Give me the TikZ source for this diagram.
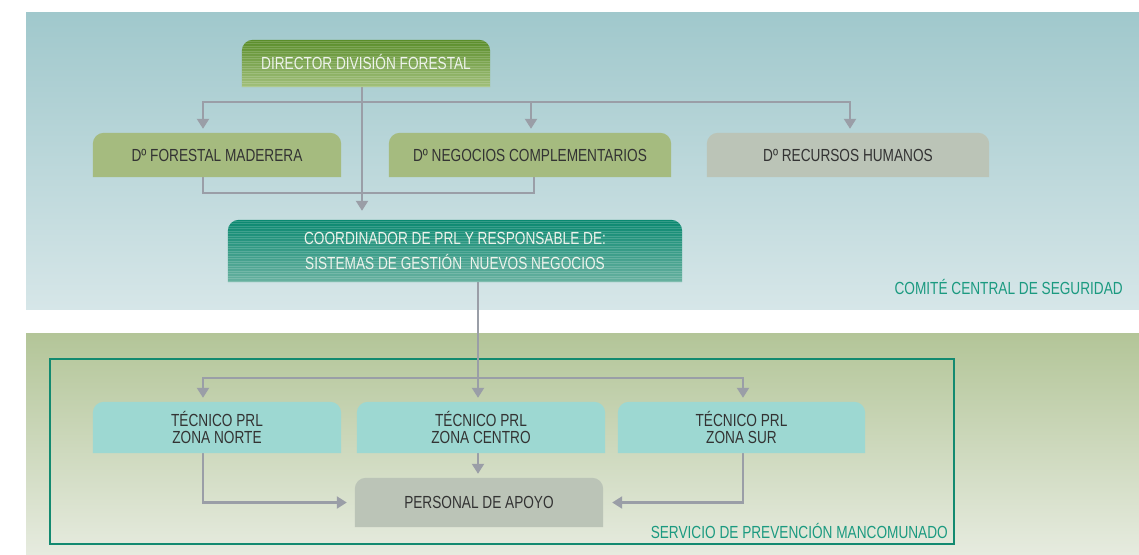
\documentclass[tikz,border=0pt]{standalone}
\usepackage{fontspec}
\setmainfont{Liberation Sans}[FakeStretch=0.78]
\usetikzlibrary{arrows.meta}
\definecolor{bgtopA}{HTML}{A0C8CC}
\definecolor{bgtopB}{HTML}{D6E6E8}
\definecolor{bgbotA}{HTML}{B3C598}
\definecolor{bgbotB}{HTML}{E6EBDF}
\definecolor{olive}{HTML}{A5BB7F}
\definecolor{greybox}{HTML}{BBC4B7}
\definecolor{aqua}{HTML}{9DD8D2}
\definecolor{dirA}{HTML}{5A8D2A}
\definecolor{dirB}{HTML}{A2C07C}
\definecolor{coA}{HTML}{0A8870}
\definecolor{coB}{HTML}{68B1A0}
\definecolor{conn}{HTML}{9A9EA7}
\definecolor{teal}{HTML}{138A70}
\definecolor{tealtxt}{HTML}{1B9A80}
\definecolor{darktxt}{HTML}{333333}
\definecolor{lighttxt}{HTML}{EEF3EC}
\pgfdeclarelayer{bg}
\pgfdeclarelayer{lines}
\pgfdeclarelayer{shapes}
\pgfsetlayers{bg,lines,shapes,main}
\newcommand\tshape[2]{\path[#2] (#1.south west) -- ([yshift=-11pt]#1.north west) arc[start angle=180,end angle=90,radius=11pt] -- ([xshift=-11pt]#1.north east) arc[start angle=90,end angle=0,radius=11pt] -- (#1.south east) -- cycle;}
\newcommand\tstripes[1]{\begin{scope}
\clip (#1.south west) -- ([yshift=-11pt]#1.north west) arc[start angle=180,end angle=90,radius=11pt] -- ([xshift=-11pt]#1.north east) arc[start angle=90,end angle=0,radius=11pt] -- (#1.south east) -- cycle;
\foreach \k in {1.5,4,...,64} \draw[white,opacity=.16,line width=.7pt] ([yshift=-\k pt]#1.north west) -- ([yshift=-\k pt]#1.north east);
\end{scope}}
\tikzset{
  box/.style={inner sep=0pt,align=center,text=darktxt,font=\fontsize{17.5}{17.5}\selectfont},
  ln/.style={draw=conn,line width=2.2pt},
  arr/.style={ln,-{Triangle[length=10pt,width=12pt]}},
  lbl/.style={inner sep=0pt,text=tealtxt,font=\fontsize{17.5}{20}\selectfont},
}
\begin{document}
\begin{tikzpicture}[x=1pt,y=-1pt]
\useasboundingbox (0,0) rectangle (1139,554);
\begin{pgfonlayer}{bg}
\fill[white] (0,0) rectangle (1139,554);
\shade[top color=bgtopA,bottom color=bgtopB] (26,12) rectangle (1139,309);
\shade[top color=bgbotA,bottom color=bgbotB] (26,333) rectangle (1139,554);
\draw[teal,line width=2.4pt] (50,359) rectangle (954,544);
\end{pgfonlayer}

\node[box,minimum width=248pt,minimum height=47pt,text=lighttxt,text height=12.5pt,text depth=0pt] (dir) at (366,63.5) {DIRECTOR DIVISIÓN FORESTAL};
\node[box,minimum width=248pt,minimum height=44pt,text height=12.5pt,text depth=0pt] (fm) at (217,155) {Dº FORESTAL MADERERA};
\node[box,minimum width=282pt,minimum height=44pt,text height=12.5pt,text depth=0pt] (nc) at (530,155) {Dº NEGOCIOS COMPLEMENTARIOS};
\node[box,minimum width=282pt,minimum height=44pt,text height=12.5pt,text depth=0pt] (rh) at (848,155) {Dº RECURSOS HUMANOS};
\node[box,minimum width=454pt,minimum height=62pt,text=lighttxt,font=\fontsize{17.5}{25}\selectfont] (coord) at (455,251) {COORDINADOR DE PRL Y RESPONSABLE DE:\\SISTEMAS DE GESTIÓN\ \ NUEVOS NEGOCIOS};
\node[box,minimum width=248pt,minimum height=51pt] (tn) at (217,427.5) {TÉCNICO PRL\\ZONA NORTE};
\node[box,minimum width=248pt,minimum height=51pt] (tc) at (481,427.5) {TÉCNICO PRL\\ZONA CENTRO};
\node[box,minimum width=247pt,minimum height=51pt] (ts) at (741.5,427.5) {TÉCNICO PRL\\ZONA SUR};
\node[box,minimum width=248pt,minimum height=49pt,text height=12.5pt,text depth=0pt] (pa) at (479,502.5) {PERSONAL DE APOYO};

\node[lbl,anchor=east] (comite) at (1123,287) {COMITÉ CENTRAL DE SEGURIDAD};
\node[lbl,anchor=east] (spm) at (948,531) {SERVICIO DE PREVENCIÓN MANCOMUNADO};

\begin{pgfonlayer}{shapes}
\tshape{dir}{top color=dirA,bottom color=dirB}
\tstripes{dir}
\tshape{fm}{fill=olive}
\tshape{nc}{fill=olive}
\tshape{rh}{fill=greybox}
\tshape{coord}{top color=coA,bottom color=coB}
\tstripes{coord}
\tshape{tn}{fill=aqua}
\tshape{tc}{fill=aqua}
\tshape{ts}{fill=aqua}
\tshape{pa}{fill=greybox}
\end{pgfonlayer}

\begin{pgfonlayer}{lines}
\draw[arr,shorten >=9pt] ([xshift=-4pt]dir.south) -- ([xshift=-93pt]coord.north);
\draw[arr,shorten >=4pt] ([xshift=-4pt]dir.south) ++(0,14.5) -| ([xshift=-14pt]fm.north);
\draw[arr,shorten >=4pt] ([xshift=-4pt]dir.south) ++(0,14.5) -| ([xshift=1pt]nc.north);
\draw[arr,shorten >=4pt] ([xshift=-4pt]dir.south) ++(0,14.5) -| ([xshift=2pt]rh.north);
\draw[ln] ([xshift=-14pt]fm.south) -- ++(0,16) -| ([xshift=4pt]nc.south);
\draw[arr,shorten >=4pt] ([xshift=23pt]coord.south) -- ([xshift=-3pt]tc.north);
\draw[arr,shorten >=4pt] ([xshift=23pt]coord.south) ++(0,96) -| ([xshift=-14pt]tn.north);
\draw[arr,shorten >=4pt] ([xshift=23pt]coord.south) ++(0,96) -| ([xshift=1.5pt]ts.north);
\draw[arr,shorten >=4pt] ([xshift=-3pt]tc.south) -- ([xshift=-1pt]pa.north);
\draw[arr,shorten >=8pt] ([xshift=-14pt]tn.south) |- (pa.west);
\draw[arr,shorten >=9pt] ([xshift=1.5pt]ts.south) |- (pa.east);
\end{pgfonlayer}
\end{tikzpicture}
\end{document}
